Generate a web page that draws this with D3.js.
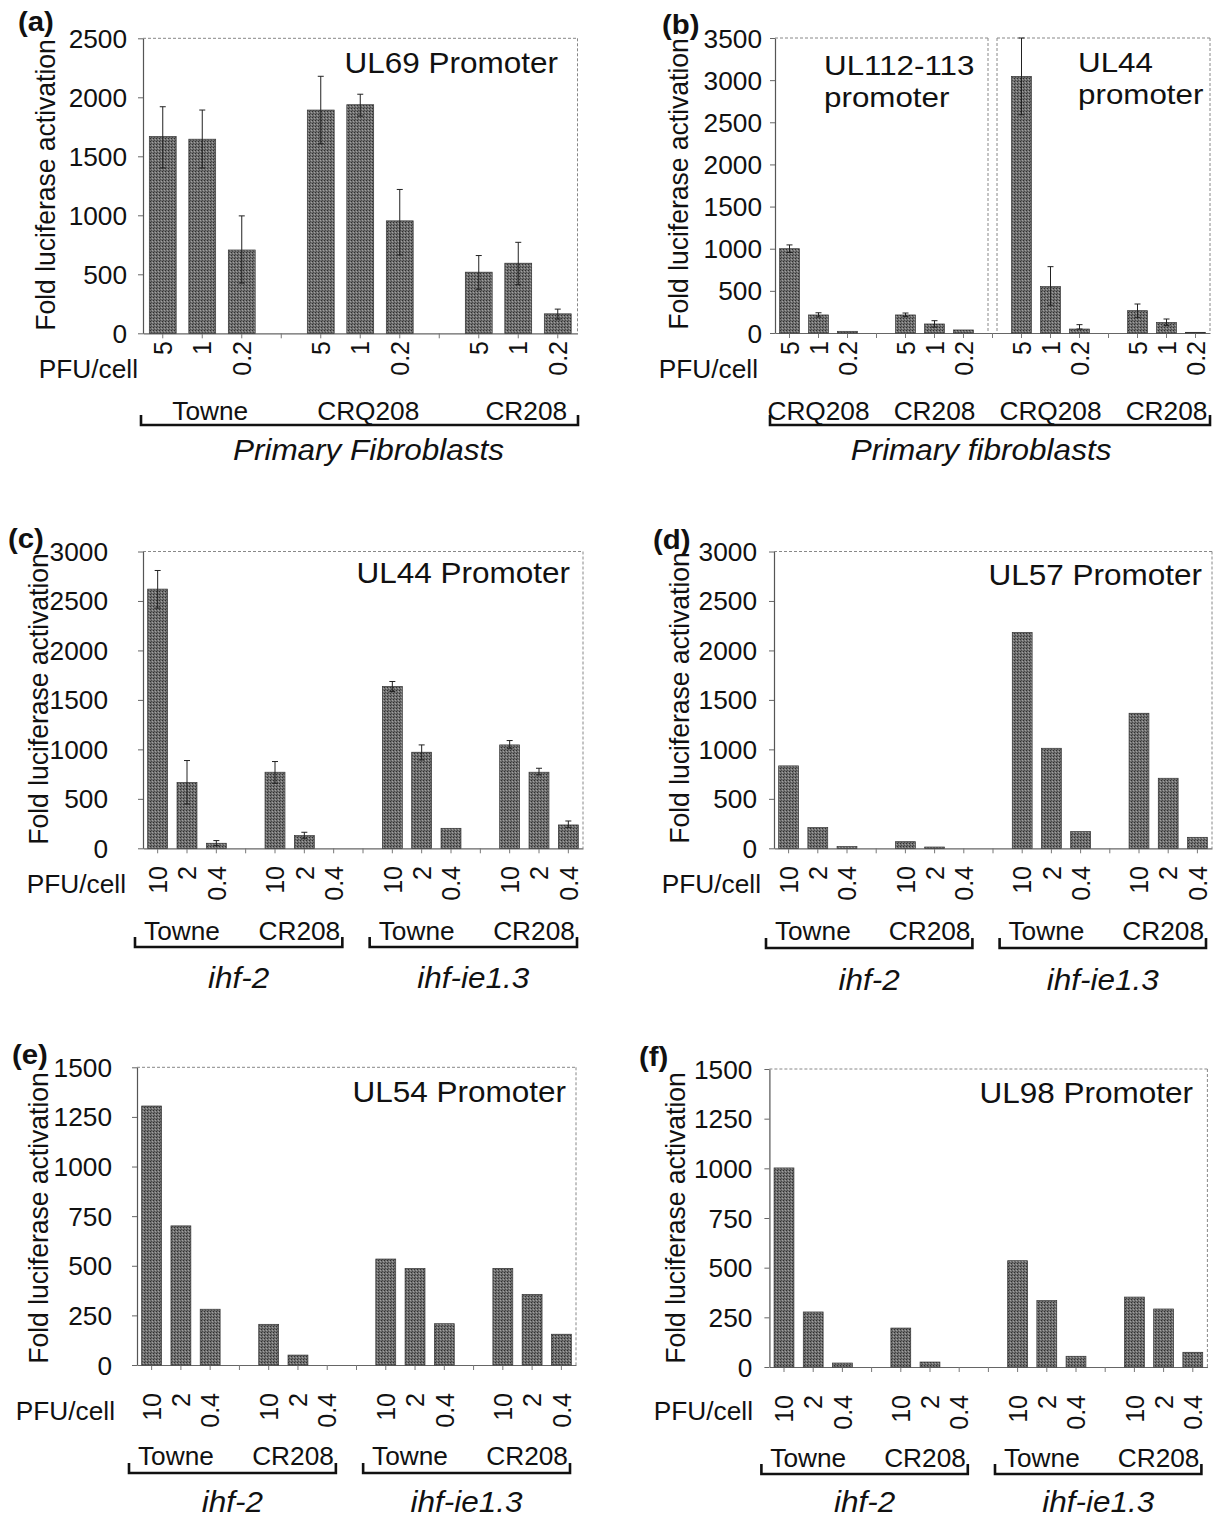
<!DOCTYPE html>
<html>
<head>
<meta charset="utf-8">
<script src="https://cdn.jsdelivr.net/npm/d3@7"></script>
<style>
  html, body { margin: 0; padding: 0; background: #fff; }
  svg { display: block; }
</style>
</head>
<body>
<div id="chart"></div>
<script>
// ---------------- DATA ----------------
const yTitleText = "Fold luciferase activation";
const pfuText = "PFU/cell";

// Panel (a) UL69 promoter, primary fibroblasts
const aTag = "(a)";
const aTitle = ["UL69 Promoter"];
const aGroups = ["Towne", "CRQ208", "CR208"];
const aDoses = ["5", "1", "0.2"];
const aValues = [1668, 1645, 706, 1892, 1937, 953, 518, 594, 165];
const aErrHigh = [1920, 1892, 995, 2178, 2026, 1219, 659, 771, 205];
const aErrLow = [1401, 1401, 426, 1606, 1841, 664, 373, 412, 120];
const aYTicks = [0, 500, 1000, 1500, 2000, 2500];
const aSets = [{ label: "Primary Fibroblasts", from: 0, to: 2 }];

// Panel (b) UL112-113 and UL44 promoters, primary fibroblasts
const bTag = "(b)";
const bTitles = [["UL112-113", "promoter"], ["UL44", "promoter"]];
const bGroups = ["CRQ208", "CR208", "CRQ208", "CR208"];
const bDoses = ["5", "1", "0.2"];
const bValues = [1000, 214, 20, 214, 107, 36, 3045, 550, 47, 265, 126, 8];
const bErrHigh = [1045, 240, null, 237, 146, null, 3500, 787, 99, 344, 166, null];
const bErrLow = [955, 190, null, 195, 70, null, 2590, 330, 47, 186, 90, null];
const bYTicks = [0, 500, 1000, 1500, 2000, 2500, 3000, 3500];
const bSets = [{ label: "Primary fibroblasts", from: 0, to: 3 }];

// Shared for panels (c)-(f)
const strainGroups = ["Towne", "CR208", "Towne", "CR208"];
const highDoses = ["10", "2", "0.4"];
const cellSets = [{ label: "ihf-2", from: 0, to: 1 }, { label: "ihf-ie1.3", from: 2, to: 3 }];

// Panel (c) UL44 promoter
const cTag = "(c)";
const cTitle = ["UL44 Promoter"];
const cValues = [2620, 664, 51, 769, 128, 0, 1635, 971, 202, 1045, 769, 236];
const cErrHigh = [2808, 887, 78, 877, 162, null, 1686, 1045, null, 1089, 809, 276];
const cErrLow = [2428, 448, 27, 657, 101, null, 1585, 893, null, 1011, 742, 212];
const cYTicks = [0, 500, 1000, 1500, 2000, 2500, 3000];

// Panel (d) UL57 promoter
const dTag = "(d)";
const dTitle = ["UL57 Promoter"];
const dValues = [833, 209, 17, 67, 13, 0, 2181, 1011, 169, 1365, 708, 111];
const dYTicks = [0, 500, 1000, 1500, 2000, 2500, 3000];

// Panel (e) UL54 promoter
const eTag = "(e)";
const eTitle = ["UL54 Promoter"];
const eValues = [1305, 701, 281, 205, 50, 0, 534, 486, 208, 487, 356, 155];
const eYTicks = [0, 250, 500, 750, 1000, 1250, 1500];

// Panel (f) UL98 promoter
const fTag = "(f)";
const fTitle = ["UL98 Promoter"];
const fValues = [1002, 277, 20, 196, 25, 0, 535, 334, 54, 352, 292, 74];
const fYTicks = [0, 250, 500, 750, 1000, 1250, 1500];

// ---------------- LAYOUT / STYLE ----------------
const W = 1214, H = 1519;
const FONT = "'Liberation Sans', Arial, Helvetica, sans-serif";
const SX = 1.05;          // slight horizontal stretch of the scanned lettering
const BAR_FRAC = 0.68;

const svg = d3.select("#chart").append("svg")
  .attr("width", W).attr("height", H)
  .attr("viewBox", `0 0 ${W} ${H}`);
svg.append("rect").attr("width", W).attr("height", H).attr("fill", "#fff");

// halftone pattern for bars
const defs = svg.append("defs");
const pat = defs.append("pattern").attr("id", "halftone")
  .attr("patternUnits", "userSpaceOnUse").attr("width", 3).attr("height", 3);
pat.append("rect").attr("width", 3).attr("height", 3).attr("fill", "#707070");
pat.append("rect").attr("x", 0).attr("y", 0).attr("width", 1).attr("height", 1).attr("fill", "#2e2e2e");
pat.append("rect").attr("x", 2).attr("y", 1).attr("width", 1).attr("height", 1).attr("fill", "#a0a0a0");
pat.append("rect").attr("x", 1).attr("y", 2).attr("width", 1).attr("height", 1).attr("fill", "#4a4a4a");

function addText(g, x, y, str, o = {}) {
  const sx = o.sx || SX;
  const t = g.append("text")
    .attr("transform", `translate(${x},${y}) scale(${sx},1)` + (o.rotate ? ` rotate(${o.rotate})` : ""))
    .attr("text-anchor", o.anchor || "start")
    .attr("font-family", FONT)
    .attr("font-size", o.size || 25)
    .attr("font-weight", o.weight || "normal")
    .attr("font-style", o.style || "normal")
    .attr("fill", "#111")
    .text(str);
  if (o.dy) t.attr("dy", o.dy);
  return t;
}

function drawPanel(cfg, L) {
  const g = svg.append("g");
  const nG = cfg.groups.length, nD = cfg.doses.length;
  const slots = [];
  cfg.groups.forEach((gr, gi) => {
    cfg.doses.forEach((d, di) => slots.push(`b${gi}_${di}`));
    if (gi < nG - 1) slots.push(`gap${gi}`);
  });
  const x = d3.scaleBand().domain(slots).range([L.x0, L.x1]).padding(0);
  const y = d3.scaleLinear().domain([0, cfg.yMax]).range([L.yZero, L.yTop]);
  const band = x.bandwidth();
  const bw = band * BAR_FRAC;

  const bars = [];
  cfg.groups.forEach((gr, gi) => cfg.doses.forEach((d, di) => {
    const i = gi * nD + di;
    bars.push({
      slot: `b${gi}_${di}`, dose: d, v: cfg.values[i],
      hi: cfg.errHigh ? cfg.errHigh[i] : null,
      lo: cfg.errLow ? cfg.errLow[i] : null
    });
  }));

  // frame (dotted top / right edges)
  const frames = L.frames || [[L.x0, L.x1]];
  frames.forEach(([l, r]) => {
    g.append("line").attr("x1", l).attr("x2", r).attr("y1", L.yTop).attr("y2", L.yTop)
      .attr("stroke", "#888").attr("stroke-width", 1).attr("stroke-dasharray", "3,2");
    g.append("line").attr("x1", r).attr("x2", r).attr("y1", L.yTop).attr("y2", L.yZero)
      .attr("stroke", "#888").attr("stroke-width", 1).attr("stroke-dasharray", "3,2");
    if (l !== L.x0) {
      g.append("line").attr("x1", l).attr("x2", l).attr("y1", L.yTop).attr("y2", L.yZero)
        .attr("stroke", "#888").attr("stroke-width", 1).attr("stroke-dasharray", "3,2");
    }
  });

  // x axis (ticks at each slot, no labels)
  const xa = g.append("g").attr("transform", `translate(0,${L.yZero})`)
    .call(d3.axisBottom(x).tickSize(5).tickSizeOuter(0).tickFormat(() => ""));
  xa.select(".domain").attr("stroke", "#666").attr("stroke-width", 1.2);
  xa.selectAll(".tick line").attr("stroke", "#777");

  // y axis
  const ya = g.append("g").attr("transform", `translate(${L.x0},0)`)
    .call(d3.axisLeft(y).tickValues(cfg.yTicks).tickFormat(d3.format("d"))
      .tickSize(5).tickSizeOuter(0).tickPadding(L.tickPad));
  ya.select(".domain").attr("stroke", "#555").attr("stroke-width", 1.2);
  ya.selectAll(".tick line").attr("stroke", "#666");
  ya.attr("font-family", FONT).attr("font-size", 25);
  ya.selectAll(".tick text")
    .attr("fill", "#111")
    .attr("x", -(5 + L.tickPad) / SX)
    .attr("transform", `scale(${SX},1)`)
    .attr("dy", "0.36em");

  // bars
  g.selectAll("rect.bar").data(bars.filter(b => b.v > 0)).enter().append("rect")
    .attr("class", "bar")
    .attr("x", b => x(b.slot) + (band - bw) / 2)
    .attr("width", bw)
    .attr("y", b => y(b.v))
    .attr("height", b => y(0) - y(b.v))
    .attr("fill", "url(#halftone)")
    .attr("stroke", "#333").attr("stroke-width", 0.7);

  // error bars
  bars.filter(b => b.hi != null).forEach(b => {
    const cx = x(b.slot) + band / 2;
    const lo = b.lo != null ? b.lo : b.v;
    g.append("line").attr("x1", cx).attr("x2", cx).attr("y1", y(lo)).attr("y2", y(b.hi))
      .attr("stroke", "#222").attr("stroke-width", 1);
    [b.hi, lo].forEach(v => {
      g.append("line").attr("x1", cx - 3).attr("x2", cx + 3).attr("y1", y(v)).attr("y2", y(v))
        .attr("stroke", "#222").attr("stroke-width", 1);
    });
  });

  // dose labels (rotated)
  bars.forEach(b => {
    const cx = x(b.slot) + band / 2;
    addText(g, cx, L.doseTop, b.dose, { size: 25, anchor: "end", rotate: -90, dy: "0.35em" });
  });

  addText(g, L.pfu[0], L.pfu[1], pfuText, { size: 25, anchor: "end" });

  // group labels
  cfg.groups.forEach((gr, gi) => {
    const s0 = x(`b${gi}_0`), s1 = x(`b${gi}_${nD - 1}`) + band;
    addText(g, (s0 + s1) / 2 + L.groupOff, L.groupY, gr, { size: 25, anchor: "middle" });
  });

  // brackets + set labels
  cfg.sets.forEach(st => {
    const l = x(`b${st.from}_0`) + L.brL;
    const r = x(`b${st.to}_${nD - 1}`) + band + L.brR;
    g.append("path")
      .attr("d", `M${l},${L.bracketY - 10}V${L.bracketY}H${r}V${L.bracketY - 10}`)
      .attr("fill", "none").attr("stroke", "#111").attr("stroke-width", 2.6);
    addText(g, (l + r) / 2 + L.setOff, L.setY, st.label, { size: 30, anchor: "middle", style: "italic" });
  });

  // y-axis title
  addText(g, L.yTitle[0], L.yTitle[1], yTitleText, { size: 26.5, anchor: "middle", rotate: -90 });

  // panel tag
  addText(g, L.tag[0], L.tag[1], cfg.tag, { size: 28, weight: "bold" });

  // titles
  cfg.titles.forEach((lines, ti) => {
    const p = L.titlePos[ti];
    lines.forEach((ln, li) => addText(g, p.x, p.y + li * p.gap, ln,
      { size: p.size || 30, anchor: p.anchor, sx: p.sx }));
  });
}

// ---------------- DRAW ----------------
drawPanel(
  { tag: aTag, titles: [aTitle], groups: aGroups, doses: aDoses, values: aValues,
    errHigh: aErrHigh, errLow: aErrLow, yMax: 2500, yTicks: aYTicks, sets: aSets },
  { x0: 143, x1: 577.5, yTop: 38.3, yZero: 333.3, tickPad: 11, tag: [18, 30.5],
    yTitle: [55, 185], pfu: [138, 378], doseTop: 341, groupY: 420, groupOff: 8,
    bracketY: 425, brL: -2, brR: 0.5, setY: 460, setOff: 9,
    titlePos: [{ x: 558, y: 73, anchor: "end", gap: 0 }] }
);

drawPanel(
  { tag: bTag, titles: bTitles, groups: bGroups, doses: bDoses, values: bValues,
    errHigh: bErrHigh, errLow: bErrLow, yMax: 3500, yTicks: bYTicks, sets: bSets },
  { x0: 775, x1: 1210, yTop: 38, yZero: 333, tickPad: 8, tag: [662, 34],
    frames: [[775, 988], [997, 1210]],
    yTitle: [688, 184], pfu: [758, 378], doseTop: 341, groupY: 420, groupOff: 0,
    bracketY: 425, brL: -5, brR: 0, setY: 460, setOff: -9,
    titlePos: [{ x: 824, y: 75, anchor: "start", gap: 32, size: 28, sx: 1.12 },
               { x: 1078, y: 72, anchor: "start", gap: 32, size: 28, sx: 1.12 }] }
);

drawPanel(
  { tag: cTag, titles: [cTitle], groups: strainGroups, doses: highDoses, values: cValues,
    errHigh: cErrHigh, errLow: cErrLow, yMax: 3000, yTicks: cYTicks, sets: cellSets },
  { x0: 143, x1: 583, yTop: 551.5, yZero: 848.3, tickPad: 30, tag: [8, 548],
    yTitle: [48, 699], pfu: [126, 893], doseTop: 866, groupY: 940, groupOff: -5,
    bracketY: 947, brL: -8, brR: -6, setY: 988, setOff: 0,
    titlePos: [{ x: 570, y: 583, anchor: "end", gap: 0 }] }
);

drawPanel(
  { tag: dTag, titles: [dTitle], groups: strainGroups, doses: highDoses, values: dValues,
    errHigh: null, errLow: null, yMax: 3000, yTicks: dYTicks, sets: cellSets },
  { x0: 774, x1: 1212, yTop: 551.5, yZero: 848.3, tickPad: 12, tag: [653, 549],
    yTitle: [689, 698], pfu: [761, 893], doseTop: 866, groupY: 940, groupOff: -5,
    bracketY: 948, brL: -8, brR: -6, setY: 990, setOff: 0,
    titlePos: [{ x: 1202, y: 585, anchor: "end", gap: 0 }] }
);

drawPanel(
  { tag: eTag, titles: [eTitle], groups: strainGroups, doses: highDoses, values: eValues,
    errHigh: null, errLow: null, yMax: 1500, yTicks: eYTicks, sets: cellSets },
  { x0: 137, x1: 576, yTop: 1067.3, yZero: 1365, tickPad: 20, tag: [12, 1064],
    yTitle: [48, 1218], pfu: [115, 1420], doseTop: 1393, groupY: 1465, groupOff: -5,
    bracketY: 1473, brL: -8, brR: -6, setY: 1512, setOff: 0,
    titlePos: [{ x: 566, y: 1102, anchor: "end", gap: 0 }] }
);

drawPanel(
  { tag: fTag, titles: [fTitle], groups: strainGroups, doses: highDoses, values: fValues,
    errHigh: null, errLow: null, yMax: 1500, yTicks: fYTicks, sets: cellSets },
  { x0: 769.4, x1: 1207.4, yTop: 1069, yZero: 1367, tickPad: 12, tag: [639, 1066],
    yTitle: [685, 1218], pfu: [753, 1420], doseTop: 1395, groupY: 1467, groupOff: -5,
    bracketY: 1474, brL: -8, brR: -6, setY: 1512, setOff: 0,
    titlePos: [{ x: 1193, y: 1103, anchor: "end", gap: 0 }] }
);
</script>
</body>
</html>
